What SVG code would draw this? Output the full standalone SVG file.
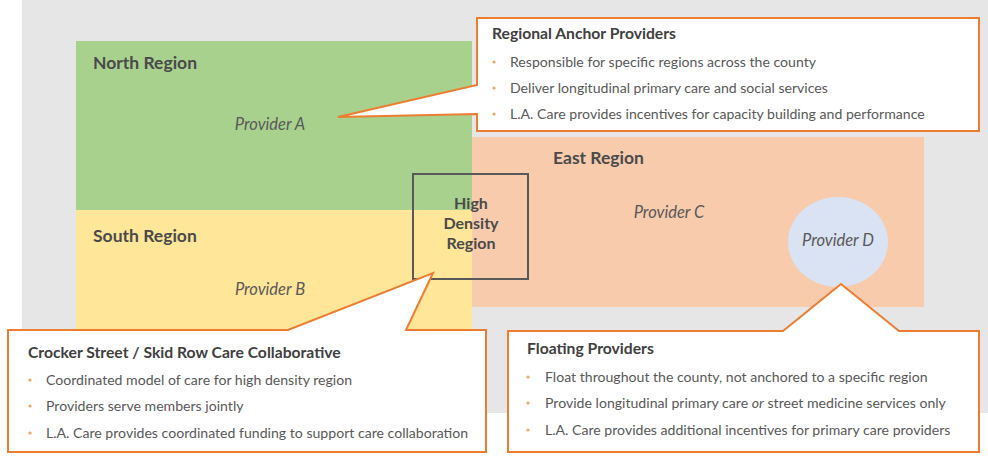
<svg xmlns="http://www.w3.org/2000/svg" width="988" height="456" viewBox="0 0 988 456">
<style>
text{font-family:Lato,"Open Sans","Liberation Sans",sans-serif;fill:#595959}
.reg{font-size:17.5px;font-weight:bold;fill:#4a4a4a}
.prov{font-size:16.5px;font-style:italic;text-anchor:middle}
.hd{font-size:16px;font-weight:bold;text-anchor:middle;fill:#4a4a4a}
.ttl{font-size:15.7px;font-weight:bold;fill:#404040}
.body{font-size:14.1px}
.call{fill:#ffffff;stroke:#ED7D31;stroke-width:2;stroke-linejoin:miter}
.dot{fill:#F4A460}
</style>
<rect x="22" y="0" width="966" height="413" fill="#E7E6E6"/>
<g id="north-region">
<rect x="76" y="41" width="396" height="169" fill="#A9D18E"/>
<text class="reg" x="93" y="69">North Region</text>
<text class="prov" x="270" y="130">Provider A</text>
</g>
<g id="south-region">
<rect x="76" y="210" width="396" height="125" fill="#FFE699"/>
<text class="reg" x="93" y="242">South Region</text>
<text class="prov" x="270" y="295">Provider B</text>
</g>
<g id="east-region">
<rect x="472" y="137" width="452" height="170" fill="#F8CBAD"/>
<text class="reg" x="553" y="164">East Region</text>
<text class="prov" x="669" y="218">Provider C</text>
</g>
<g id="provider-d">
<ellipse cx="838" cy="242" rx="50" ry="45" fill="#DAE3F3"/>
<text class="prov" x="838" y="246">Provider D</text>
</g>
<g id="high-density">
<rect x="413" y="174" width="115" height="105" fill="none" stroke="#595959" stroke-width="2"/>
<text class="hd" x="471" y="209">High</text>
<text class="hd" x="471" y="229">Density</text>
<text class="hd" x="471" y="249">Region</text>
</g>
<g id="connectors">
<path class="call" d="M477,18 H979 V131 H477 V114 L338,117 L477,85 Z"/>
<path class="call" d="M8,330 H288 L433,273 L406,330 H486 V452 H8 Z"/>
<path class="call" d="M508,331 H783 L841,284 L899,331 H979 V452 H508 Z"/>
</g>
<g id="regional-anchor">
<text class="ttl" x="492" y="39">Regional Anchor Providers</text>
<circle class="dot" cx="494" cy="62" r="1.6"/>
<circle class="dot" cx="494" cy="88" r="1.6"/>
<circle class="dot" cx="494" cy="114" r="1.6"/>
<text class="body" x="510" y="67">Responsible for specific regions across the county</text>
<text class="body" x="510" y="93">Deliver longitudinal primary care and social services</text>
<text class="body" x="510" y="119">L.A. Care provides incentives for capacity building and performance</text>
</g>
<g id="crocker-street">
<text class="ttl" x="28" y="358">Crocker Street / Skid Row Care Collaborative</text>
<circle class="dot" cx="30" cy="380" r="1.6"/>
<circle class="dot" cx="30" cy="406" r="1.6"/>
<circle class="dot" cx="30" cy="433" r="1.6"/>
<text class="body" x="46" y="385">Coordinated model of care for high density region</text>
<text class="body" x="46" y="411">Providers serve members jointly</text>
<text class="body" x="46" y="438">L.A. Care provides coordinated funding to support care collaboration</text>
</g>
<g id="floating-providers">
<text class="ttl" x="527" y="354">Floating Providers</text>
<circle class="dot" cx="528" cy="377" r="1.6"/>
<circle class="dot" cx="528" cy="403" r="1.6"/>
<circle class="dot" cx="528" cy="430" r="1.6"/>
<text class="body" x="545" y="382">Float throughout the county, not anchored to a specific region</text>
<text class="body" x="545" y="408">Provide longitudinal primary care <tspan font-style="italic">or</tspan> street medicine services only</text>
<text class="body" x="545" y="435">L.A. Care provides additional incentives for primary care providers</text>
</g>
</svg>
